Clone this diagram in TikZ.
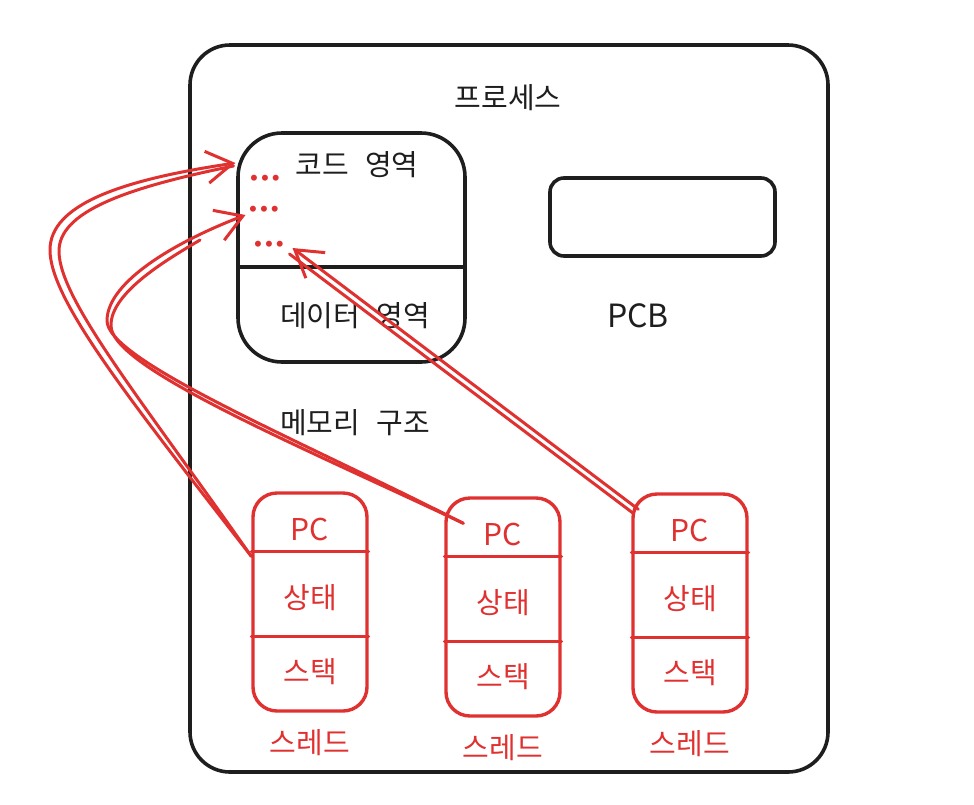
\documentclass[tikz,border=0pt]{standalone}
\usepackage{fontspec}
\setmainfont{Noto Sans CJK KR}[WordSpace=2.5]
\newfontfamily\dotfont{DejaVu Sans}
\usepackage{xcolor}
\usepackage{tikz}
\usetikzlibrary{arrows.meta}
\definecolor{inkblack}{RGB}{30, 30, 30}
\definecolor{inkred}{RGB}{224, 49, 49}
\newcommand{\lblsize}{\fontsize{29pt}{33pt}\selectfont}

\tikzset{
  blackbox/.style={draw=inkblack, line width=3.6pt, inner sep=0pt},
  threadbox/.style={draw=inkred, line width=3.4pt, rounded corners=24pt,
    minimum width=114pt, minimum height=218pt, inner sep=0pt},
  blacktext/.style={text=inkblack, font=\lblsize, inner sep=0pt},
  redtext/.style={text=inkred, font=\lblsize, inner sep=0pt},
  dots/.style={text=inkred, font=\dotfont\fontsize{17pt}{17pt}\selectfont\bfseries, inner sep=0pt},
  redline/.style={draw=inkred, line width=3pt, line cap=round, line join=round},
  barb/.style={-{Straight Barb[length=26pt, width=32pt]}}
}

\begin{document}
\begin{tikzpicture}[x=1pt, y=-1pt]
  \useasboundingbox (0,0) rectangle (974,804);

  % process
  \node[blackbox, rounded corners=40pt, minimum width=638pt, minimum height=727pt] (proc) at (509,408.5) {};
  \node[blacktext] (proctitle) at (508,98) {프로세스};

  % memory
  \node[blackbox, rounded corners=44pt, minimum width=227pt, minimum height=229pt] (mem) at (351.5,247.5) {};
  \draw[draw=inkblack, line width=3.2pt] (mem.west |- 0,267) -- (mem.east |- 0,267);
  \node[blacktext] (code) at (357,165) {코드 영역};
  \node[blacktext] (data) at (355,316) {데이터 영역};
  \node[blacktext] (memtitle) at (355,423) {메모리 구조};
  \node[dots] (c1) at (265,180) {•••};
  \node[dots] (c2) at (264,211) {•••};
  \node[dots] (c3) at (269,246) {•••};

  % pcb
  \node[blackbox, rounded corners=14pt, minimum width=225pt, minimum height=78pt] (pcb) at (662.5,217) {};
  \node[text=inkblack, font=\fontsize{32pt}{36pt}\selectfont, inner sep=0pt] (pcblabel) at (638,316) {PCB};

  % threads
  \foreach \n/\x/\t in {1/310/493, 2/503/498, 3/690/494} {
    \node[threadbox] (t\n) at (\x,\t+109) {};
    \draw[redline] ([yshift=-60pt]t\n.north west) -- ([yshift=-60pt]t\n.north east);
    \draw[redline] ([yshift=-145pt]t\n.north west) -- ([yshift=-145pt]t\n.north east);
    \node[redtext, font=\fontsize{30pt}{34pt}\selectfont] (pc\n) at ([yshift=-38pt]t\n.north) {PC};
    \node[redtext] (st\n) at ([yshift=-106pt]t\n.north) {상태};
    \node[redtext] (sk\n) at ([yshift=-180pt]t\n.north) {스택};
    \node[redtext] (th\n) at ([yshift=-30pt]t\n.south) {스레드};
  }

  % thread 1 -> code
  \draw[redline, barb] ([yshift=-65pt]t1.north west)
    .. controls (130,400) and (50,300) .. (50,250)
    .. controls (50,205) and (120,180) .. ([shift={(-13pt,17pt)}]c1.west);
  \draw[redline] ([yshift=-65pt]t1.north west)
    .. controls (140,398) and (60,300) .. (59,252)
    .. controls (58,212) and (125,188) .. ([shift={(-15pt,14pt)}]c1.west);

  % thread 2 -> code
  \draw[redline, barb] ([shift={(19pt,-27pt)}]t2.north west)
    .. controls (300,440) and (105,360) .. (107,320)
    .. controls (108,280) and (180,240) .. ([shift={(-2pt,-4pt)}]c2.west);
  \draw[redline] ([shift={(19pt,-27pt)}]t2.north west)
    .. controls (300,446) and (112,368) .. (111,326)
    .. controls (110,292) and (170,258) .. (200,240);

  % thread 3 -> code
  \draw[redline, barb] ([shift={(7pt,-17pt)}]t3.north west) -- ([shift={(7pt,-2pt)}]c3.east);
  \draw[redline] ([shift={(2pt,-21pt)}]t3.north west) -- ([shift={(4pt,-8pt)}]c3.east);
\end{tikzpicture}
\end{document}
